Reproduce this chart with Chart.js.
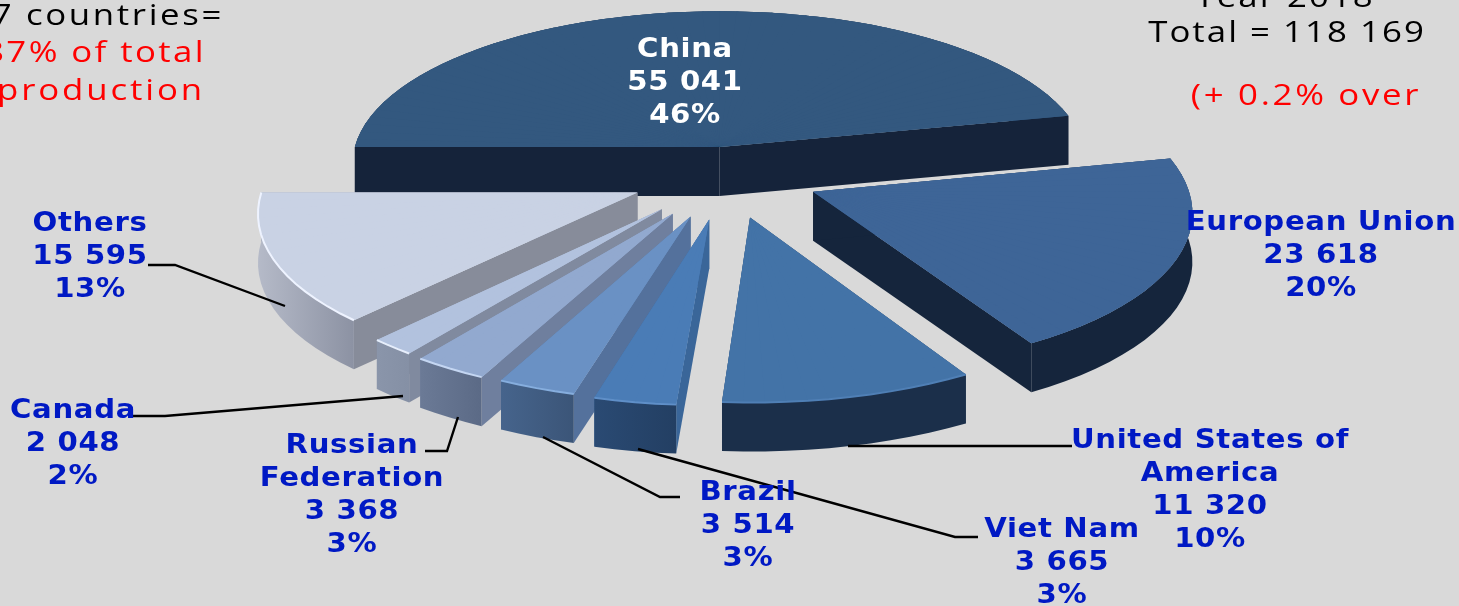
<!DOCTYPE html>
<html><head><meta charset="utf-8">
<style>html,body{margin:0;padding:0;background:#d9d9d9;overflow:hidden}canvas{display:block;filter:blur(0.45px)}</style>
<script src="https://cdn.jsdelivr.net/npm/chart.js@4"></script></head>
<body><canvas id="c" width="1459" height="606"></canvas>
<script>
// ---- data ----
const categories = ["China","European Union","United States of America","Viet Nam","Brazil","Russian Federation","Canada","Others"];
const production = [55041,23618,11320,3665,3514,3368,2048,15595];
const percentLabels = ["46%","20%","10%","3%","3%","3%","2%","13%"];
const valueLabels = ["55 041","23 618","11 320","3 665","3 514","3 368","2 048","15 595"];
// ---- styling ----
const topColors  = ["#33587f","#3e6597","#4373a7","#4a7cb6","#6a91c4","#92a9cf","#b2c2de","#c9d2e4"];
const sideColors = ["#15233a","#15253c","#1b2f4a","#3a6699","#54719c","#6f7f9e","#808a9f","#878c9a"];
const rimStart   = ["#15233a","#15253c","#1b2f4a","#233f63","#3b5578","#5b6a86","#8590a5","#8c92a3"];
const rimEnd     = ["#15233a","#15253c","#1b2f4a","#2a4a73","#46648c","#6b7a96","#8a95aa","#b5bac8"];
const rimGlow    = [null,null,"#4f7fb5","#5f8fc8","#86aede","#c4d6f2","#e6eefb","#eef3ff"];
const explode    = [38,50,53,55,54,55,54,52];
const paintOrder = [0,1,7,6,5,4,3,2];
const view = {cx:727,cy:176,rx:372,ry:156,k:0.106,depth:49};
const labelFont = 'bold 27px "DejaVu Sans"';
const labelStretch = 1.08;
const labelSpots = [[685,50],[1321,223],[1210,441],[1062,530],[748,493],[352,446],[73,411],[90,224]];
const leaders = [null,null,[[848,446],[1072,446]],[[638,449],[955,537],[978,537]],[[543,437],[660,497],[680,497]],
  [[458,417],[447,451],[425,451]],[[403,396],[165,416],[133,416]],[[285,306],[175,265],[148,265]]];
const noteStretch = 1.2;
const notes = [
  {t:"7 countries=",x:224,y:17,a:"right",c:"#000",ls:2.2},
  {t:"87% of total",x:206,y:54,a:"right",c:"#f00",ls:2.0},
  {t:"production",x:205,y:92,a:"right",c:"#f00",ls:2.4},
  {t:"Year 2018",x:1285,y:-1,a:"center",c:"#000",ls:1.7},
  {t:"Total = 118 169",x:1287,y:34,a:"center",c:"#000",ls:1.7},
  {t:"(+ 0.2% over",x:1306,y:97,a:"center",c:"#f00",ls:2.25}
];

function project(el,px,py){
  const R=el.outerRadius,u=(px-el.x)/R,v=(py-el.y)/R,w=1-view.k*v;
  return {x:view.cx+view.rx*u/w,y:view.cy+view.ry*v/w};
}
function apexOf(el,off){
  const h=(el.startAngle+el.endAngle)/2;
  return [el.x+Math.cos(h)*off,el.y+Math.sin(h)*off];
}
function rimPoint(el,base,a){
  return project(el,base[0]+el.outerRadius*Math.cos(a),base[1]+el.outerRadius*Math.sin(a));
}
function quad(ctx,p,q,d){
  ctx.beginPath();ctx.moveTo(p.x,p.y);ctx.lineTo(q.x,q.y);ctx.lineTo(q.x,q.y+d);ctx.lineTo(p.x,p.y+d);ctx.closePath();ctx.fill();
}
const solid3d = {
  id:'solid3d',
  beforeDatasetsDraw(chart){
    const ctx=chart.ctx, meta=chart.getDatasetMeta(0);
    paintOrder.forEach(i=>{
      const el=meta.data[i], opt=el.options, off=opt.offset;
      const s0=el.startAngle,e0=el.endAngle,c0=el.circumference;
      const base=apexOf(el,off), A=project(el,base[0],base[1]);
      const d=view.depth;
      const steps=Math.max(2,Math.ceil((e0-s0)/(Math.PI/60)));
      const pts=[];
      for(let n=0;n<=steps;n++) pts.push(rimPoint(el,base,s0+(e0-s0)*n/steps));
      ctx.save();
      // radial walls
      ctx.fillStyle=sideColors[i];
      quad(ctx,A,pts[steps],d);
      quad(ctx,A,pts[0],d);
      // rim, as one band
      const xs=pts.map(p=>p.x),g=ctx.createLinearGradient(Math.max(...xs),0,Math.min(...xs)+0.1,0);
      g.addColorStop(0,rimStart[i]);g.addColorStop(1,rimEnd[i]);
      ctx.fillStyle=g;
      ctx.beginPath();
      pts.forEach((p,n)=>n?ctx.lineTo(p.x,p.y):ctx.moveTo(p.x,p.y));
      for(let n=steps;n>=0;n--)ctx.lineTo(pts[n].x,pts[n].y+d);
      ctx.closePath();ctx.fill();
      // under-paint so wedge seams disappear
      ctx.fillStyle=topColors[i];
      ctx.beginPath();ctx.moveTo(A.x,A.y);pts.forEach(p=>ctx.lineTo(p.x,p.y));ctx.closePath();ctx.fill();
      ctx.restore();
      // top face: the chart's own arc, drawn wedge by wedge under the perspective
      const savedOffset=opt.offset; opt.offset=0;
      const overlap=0.006;
      for(let n=0;n<steps;n++){
        const a0=s0+(e0-s0)*n/steps,a1=s0+(e0-s0)*(n+1)/steps;
        const P=pts[n],Q=pts[n+1],R=el.outerRadius;
        const x0=R*Math.cos(a0),y0=R*Math.sin(a0),x1=R*Math.cos(a1),y1=R*Math.sin(a1);
        const det=x0*y1-x1*y0;
        const ux=P.x-A.x,uy=P.y-A.y,vx=Q.x-A.x,vy=Q.y-A.y;
        const a=(ux*y1-vx*y0)/det,c=(vx*x0-ux*x1)/det,b=(uy*y1-vy*y0)/det,dd=(vy*x0-uy*x1)/det;
        ctx.save();
        ctx.transform(a,b,c,dd,A.x-a*el.x-c*el.y,A.y-b*el.x-dd*el.y);
        el.startAngle=a0;
        el.endAngle=n<steps-1?a1+overlap:a1;
        el.circumference=el.endAngle-a0;
        el.draw(ctx);
        ctx.restore();
      }
      el.startAngle=s0;el.endAngle=e0;el.circumference=c0;opt.offset=savedOffset;
      // highlight along rim
      if(rimGlow[i]){
        ctx.save();ctx.strokeStyle=rimGlow[i];ctx.lineWidth=2;ctx.beginPath();
        pts.forEach((p,n)=>n?ctx.lineTo(p.x,p.y):ctx.moveTo(p.x,p.y));ctx.stroke();ctx.restore();
      }
    });
    return false;
  },
  afterDraw(chart){
    const ctx=chart.ctx;
    ctx.save();
    ctx.strokeStyle="#000";ctx.lineWidth=2.4;ctx.lineJoin="miter";
    leaders.forEach(l=>{if(!l)return;ctx.beginPath();l.forEach((p,n)=>n?ctx.lineTo(p[0],p[1]):ctx.moveTo(p[0],p[1]));ctx.stroke();});
    ctx.textBaseline="middle";
    ctx.font=labelFont;ctx.textAlign="center";ctx.letterSpacing="0.6px";
    const wrapped={2:["United States of","America"],5:["Russian","Federation"]};
    const stretched=(t,x,y,sx)=>{ctx.save();ctx.translate(x,y);ctx.scale(sx,1);ctx.fillText(t,0,0);ctx.restore();};
    categories.forEach((name,i)=>{
      const lines=(wrapped[i]||[name]).concat(valueLabels[i],percentLabels[i]);
      ctx.fillStyle=i===0?"#ffffff":"#0019c4";
      lines.forEach((t,n)=>stretched(t,labelSpots[i][0],labelSpots[i][1]+n*33,labelStretch));
    });
    ctx.font='29px "Open Sans"';
    notes.forEach(n=>{ctx.fillStyle=n.c;ctx.textAlign=n.a;ctx.letterSpacing=n.ls+"px";stretched(n.t,n.x,n.y,noteStretch);});
    ctx.restore();
  }
};
new Chart(document.getElementById('c'),{
  type:'pie',
  data:{labels:categories,datasets:[{data:production,backgroundColor:topColors,borderWidth:0,offset:explode}]},
  options:{responsive:false,animation:false,rotation:-90,radius:200,events:[],
    layout:{padding:0},
    plugins:{legend:{display:false},tooltip:{enabled:false},title:{display:false}}},
  plugins:[solid3d]
});
</script></body></html>
